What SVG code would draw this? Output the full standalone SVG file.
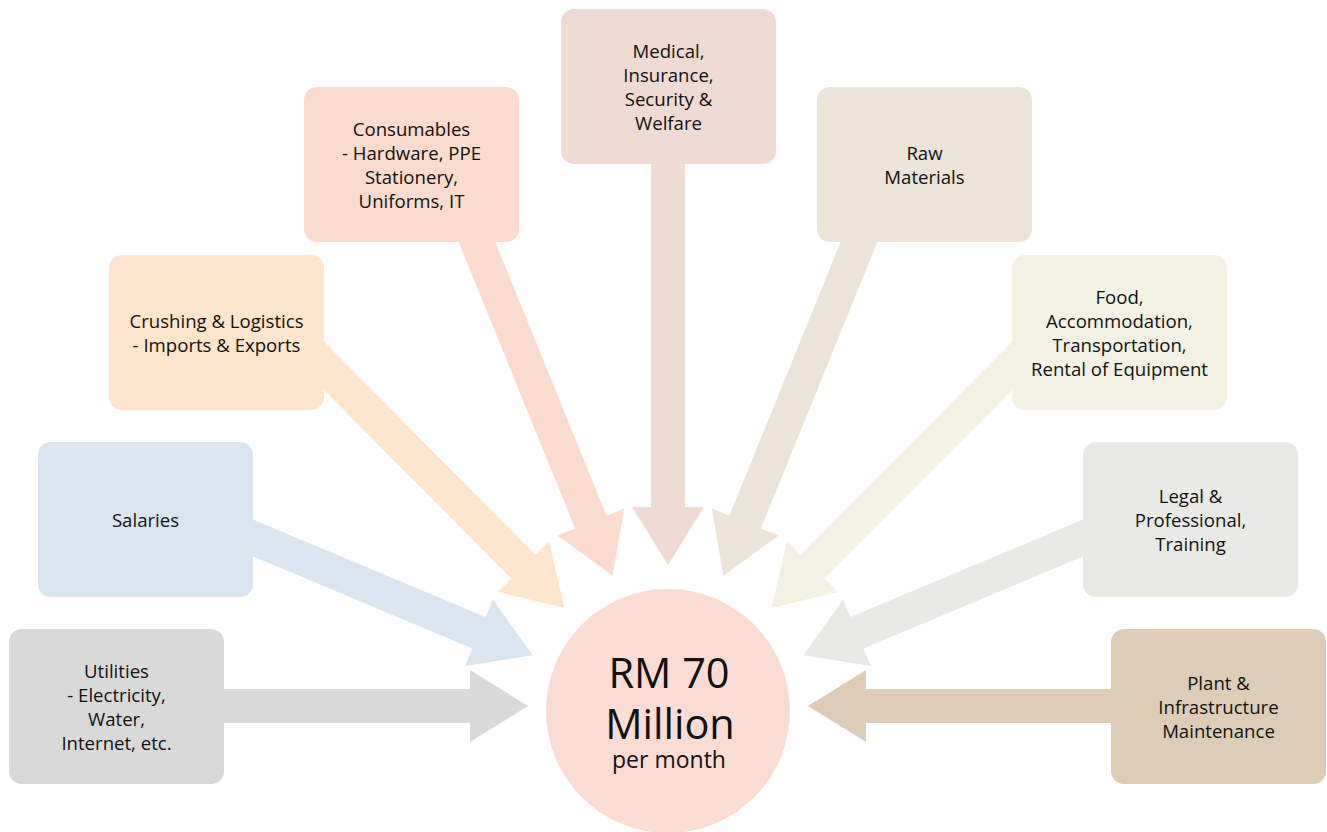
<svg xmlns="http://www.w3.org/2000/svg" width="1327" height="832" viewBox="0 0 1327 832">
<style>
.box{stroke:none}
.lbl{font-family:"Open Sans","Liberation Sans",sans-serif;font-size:18.6px;fill:#111;text-anchor:middle}
.big{font-family:"Open Sans","Liberation Sans",sans-serif;font-size:41.5px;fill:#111;text-anchor:middle}
.sub{font-family:"Open Sans","Liberation Sans",sans-serif;font-size:23px;fill:#111;text-anchor:middle}
</style>
<rect width="1327" height="832" fill="#ffffff"/>
<g id="connectors">
<polygon fill="#d9d9d9" points="210,689 470,689 470,670 528,706 470,742 470,723 210,723"/>
<polygon fill="#dae5f0" points="227.99,545.95 472.38,648.41 465.03,665.93 532.44,655.16 492.87,599.53 485.52,617.05 241.13,514.59"/>
<polygon fill="#fee5cb" points="297.84,363.81 511.39,578.61 497.92,592.00 564.35,607.75 548.98,541.24 535.51,554.63 321.96,339.83"/>
<polygon fill="#fadbce" points="453.72,229.87 575.06,528.46 557.46,535.61 612.65,575.80 624.16,508.51 606.56,515.66 485.22,217.07"/>
<polygon fill="#efdad4" points="651,150 651,507 632,507 668,565 704,507 685,507 685,150"/>
<polygon fill="#ede4d9" points="882.28,229.87 760.94,528.46 778.54,535.61 723.35,575.80 711.84,508.51 729.44,515.66 850.78,217.07"/>
<polygon fill="#f2f1e4" points="1038.16,363.81 824.61,578.61 838.08,592.00 771.65,607.75 787.02,541.24 800.49,554.63 1014.04,339.83"/>
<polygon fill="#e9eae5" points="1108.01,545.95 863.62,648.41 870.97,665.93 803.56,655.16 843.13,599.53 850.48,617.05 1094.87,514.59"/>
<polygon fill="#ddcdb6" points="1125,689 866,689 866,670 808,706 866,742 866,723 1125,723"/>
</g>
<g id="utilities">
<rect class="box" x="9" y="629" width="215" height="155" rx="13" fill="#d9d9d9"/>
<text class="lbl"><tspan x="116.5" y="677.5">Utilities</tspan><tspan x="116.5" y="701.5">- Electricity,</tspan><tspan x="116.5" y="725.5">Water,</tspan><tspan x="116.5" y="749.5">Internet, etc.</tspan></text>
</g>
<g id="salaries">
<rect class="box" x="38" y="442" width="215" height="155" rx="13" fill="#dae5f0"/>
<text class="lbl" x="145.5" y="526.5">Salaries</text>
</g>
<g id="crushing">
<rect class="box" x="109" y="255" width="215" height="155" rx="13" fill="#fee5cb"/>
<text class="lbl"><tspan x="216.5" y="327.5">Crushing &amp; Logistics</tspan><tspan x="216.5" y="351.5">- Imports &amp; Exports</tspan></text>
</g>
<g id="consumables">
<rect class="box" x="304" y="87" width="215" height="155" rx="13" fill="#fadbce"/>
<text class="lbl"><tspan x="411.5" y="135.5">Consumables</tspan><tspan x="411.5" y="159.5">- Hardware, PPE</tspan><tspan x="411.5" y="183.5">Stationery,</tspan><tspan x="411.5" y="207.5">Uniforms, IT</tspan></text>
</g>
<g id="medical">
<rect class="box" x="561" y="9" width="215" height="155" rx="13" fill="#efdad4"/>
<text class="lbl"><tspan x="668.5" y="57.5">Medical,</tspan><tspan x="668.5" y="81.5">Insurance,</tspan><tspan x="668.5" y="105.5">Security &amp;</tspan><tspan x="668.5" y="129.5">Welfare</tspan></text>
</g>
<g id="raw">
<rect class="box" x="817" y="87" width="215" height="155" rx="13" fill="#ede4d9"/>
<text class="lbl"><tspan x="924.5" y="159.5">Raw</tspan><tspan x="924.5" y="183.5">Materials</tspan></text>
</g>
<g id="food">
<rect class="box" x="1012" y="255" width="215" height="155" rx="13" fill="#f2f1e4"/>
<text class="lbl"><tspan x="1119.5" y="303.5">Food,</tspan><tspan x="1119.5" y="327.5">Accommodation,</tspan><tspan x="1119.5" y="351.5">Transportation,</tspan><tspan x="1119.5" y="375.5">Rental of Equipment</tspan></text>
</g>
<g id="legal">
<rect class="box" x="1083" y="442" width="215" height="155" rx="13" fill="#e9eae5"/>
<text class="lbl"><tspan x="1190.5" y="502.5">Legal &amp;</tspan><tspan x="1190.5" y="526.5">Professional,</tspan><tspan x="1190.5" y="550.5">Training</tspan></text>
</g>
<g id="plant">
<rect class="box" x="1111" y="629" width="215" height="155" rx="13" fill="#ddcdb6"/>
<text class="lbl"><tspan x="1218.5" y="689.5">Plant &amp;</tspan><tspan x="1218.5" y="713.5">Infrastructure</tspan><tspan x="1218.5" y="737.5">Maintenance</tspan></text>
</g>
<g id="total">
<circle cx="668" cy="711" r="122" fill="#fadcd2"/>
<text class="big" x="669" y="688">RM 70</text>
<text class="big" x="670" y="739">Million</text>
<text class="sub" x="669" y="768">per month</text>
</g>
</svg>
